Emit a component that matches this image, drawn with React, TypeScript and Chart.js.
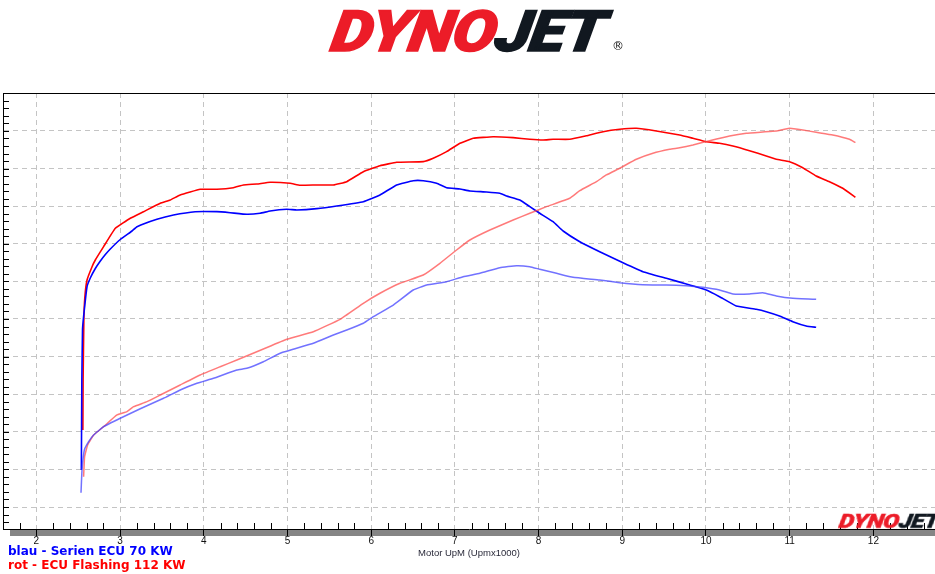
import React, { useEffect, useRef } from 'react';
import { Chart, registerables } from 'chart.js';

Chart.register(...registerables);

// ---- axis ticks ----
const xTickValues = [2, 3, 4, 5, 6, 7, 8, 9, 10, 11, 12];
const yGridValues = [0, 10, 20, 30, 40, 50, 60, 70, 80, 90, 100];

// ---- blau: Serien ECU (torque-like curve) ----
const blueTorqueRpm = [2.537, 2.543, 2.551, 2.564, 2.605, 2.644, 2.704, 2.764, 2.824, 2.883, 3.002, 3.142, 3.202, 3.44, 3.638, 3.897, 4.156, 4.315, 4.514, 4.673, 4.792, 4.992, 5.111, 5.35, 5.588, 5.906, 6.105, 6.304, 6.502, 6.622, 6.782, 6.901, 7.06, 7.179, 7.378, 7.537, 7.617, 7.776, 7.895, 8.014, 8.173, 8.293, 8.492, 8.73, 9.008, 9.247, 9.526, 9.765, 10.003, 10.162, 10.361, 10.6, 10.72, 10.878, 11.037, 11.197, 11.316];
const blueTorque = [9.84, 33.78, 47.07, 50.61, 58.59, 60.91, 63.43, 65.43, 67.15, 68.62, 71.14, 73.4, 74.55, 76.52, 77.66, 78.54, 78.54, 78.27, 77.85, 78.11, 78.72, 79.18, 78.99, 79.34, 80.05, 81.2, 82.98, 85.64, 86.78, 86.78, 86.09, 84.92, 84.57, 84.04, 83.78, 83.43, 82.71, 81.65, 79.87, 78.11, 75.88, 73.4, 70.56, 67.9, 64.97, 62.58, 60.82, 59.31, 57.71, 55.93, 53.46, 52.58, 51.94, 50.8, 49.28, 48.14, 47.79];

// ---- blau: Serien ECU (power-like curve) ----
const bluePowerRpm = [2.533, 2.545, 2.573, 2.624, 2.684, 2.803, 3.002, 3.241, 3.519, 3.718, 3.918, 4.116, 4.395, 4.514, 4.712, 4.912, 5.309, 5.548, 5.708, 5.906, 6.025, 6.264, 6.502, 6.662, 6.901, 7.099, 7.298, 7.537, 7.736, 7.895, 8.014, 8.214, 8.412, 8.73, 8.969, 9.247, 9.526, 9.765, 9.963, 10.162, 10.321, 10.52, 10.679, 10.839, 11.037, 11.316];
const bluePower = [3.8, 9.84, 15.16, 17.37, 19.15, 21.36, 23.59, 26.12, 28.91, 31.12, 32.9, 34.23, 36.44, 36.89, 38.64, 40.88, 43.54, 45.74, 47.07, 48.86, 50.61, 53.72, 57.71, 59.04, 59.92, 61.25, 62.15, 63.64, 64.18, 63.91, 63.22, 62.15, 61.09, 60.37, 59.65, 59.12, 59.04, 58.86, 58.43, 57.71, 56.65, 56.65, 56.99, 56.12, 55.51, 55.24];

// ---- rot: ECU Flashing (torque-like curve) ----
const redTorqueRpm = [2.555, 2.558, 2.567, 2.579, 2.605, 2.665, 2.704, 2.803, 2.943, 3.122, 3.28, 3.48, 3.599, 3.718, 3.957, 4.156, 4.354, 4.474, 4.634, 4.792, 5.031, 5.15, 5.35, 5.548, 5.708, 5.906, 6.105, 6.304, 6.622, 6.741, 6.901, 7.06, 7.219, 7.457, 7.696, 7.895, 8.054, 8.173, 8.372, 8.572, 8.77, 8.969, 9.168, 9.407, 9.685, 9.844, 10.003, 10.162, 10.321, 10.52, 10.72, 10.839, 10.998, 11.156, 11.316, 11.475, 11.634, 11.785];
const redTorque = [20.48, 33.78, 49.73, 55.85, 60.37, 63.91, 65.69, 69.23, 74.12, 76.78, 78.54, 80.77, 81.65, 82.98, 84.5, 84.5, 84.92, 85.64, 85.9, 86.36, 86.09, 85.56, 85.64, 85.64, 86.52, 89.18, 90.77, 91.68, 91.84, 92.74, 94.5, 96.73, 98.06, 98.48, 98.22, 97.79, 97.61, 97.79, 97.79, 98.75, 99.81, 100.45, 100.72, 100.0, 98.94, 98.06, 97.15, 96.73, 96.01, 94.76, 93.35, 92.47, 91.84, 90.24, 88.03, 86.52, 84.76, 82.37];

// ---- rot: ECU Flashing (power-like curve) ----
const redPowerRpm = [2.564, 2.576, 2.612, 2.684, 2.803, 2.963, 3.082, 3.161, 3.321, 3.48, 3.718, 3.957, 4.196, 4.395, 4.712, 4.992, 5.309, 5.628, 5.906, 6.105, 6.344, 6.622, 6.821, 7.02, 7.179, 7.418, 7.696, 7.895, 8.094, 8.372, 8.492, 8.691, 8.81, 8.969, 9.168, 9.366, 9.566, 9.685, 9.844, 10.043, 10.282, 10.481, 10.679, 10.839, 10.998, 11.156, 11.316, 11.514, 11.714, 11.785];
const redPower = [8.06, 13.38, 16.49, 19.15, 21.36, 24.47, 25.35, 26.68, 28.01, 29.79, 32.45, 35.11, 37.31, 39.1, 42.02, 44.6, 46.62, 49.92, 54.18, 56.84, 59.49, 61.7, 64.81, 68.35, 71.01, 73.67, 76.33, 78.11, 79.87, 82.1, 84.12, 86.52, 88.3, 90.08, 92.47, 94.07, 95.13, 95.53, 96.28, 97.42, 98.67, 99.39, 99.73, 100.0, 100.72, 100.27, 99.65, 98.94, 97.79, 96.89];

const legendLines = ['blau - Serien ECU 70 KW', 'rot - ECU Flashing 112 KW'];
const axisTitle = 'Motor UpM (Upmx1000)';

const toPoints = (xs: number[], ys: number[]) => xs.map((x, i) => ({ x, y: ys[i] }));

const decorPlugin = {
  id: 'dynoDecor',
  beforeDraw(chart: any) {
    const { ctx, chartArea } = chart;
    ctx.save();
    ctx.fillStyle = '#858585';
    ctx.fillRect(chartArea.left + 7, chartArea.bottom + 1, chartArea.right - chartArea.left - 7, 6);
    ctx.restore();
  },
  afterDraw(chart: any) {
    const { ctx, chartArea, scales } = chart;
    const xs = scales.x;
    const ys = scales.y;
    ctx.save();
    ctx.strokeStyle = '#000';
    ctx.lineWidth = 1;
    ctx.beginPath();
    // y minor ticks every 2 units
    for (let k = -2; k <= 55; k++) {
      const v = k * 2;
      if (v < ys.min || v > ys.max) continue;
      const py = Math.round(ys.getPixelForValue(v)) + 0.5;
      ctx.moveTo(chartArea.left, py);
      ctx.lineTo(chartArea.left + 6, py);
    }
    // x minor ticks every 0.2 units
    for (let k = 8; k <= 64; k++) {
      if (k % 5 === 0) continue;
      const v = k / 5;
      if (v < xs.min || v > xs.max) continue;
      const px = Math.round(xs.getPixelForValue(v)) + 0.5;
      ctx.moveTo(px, chartArea.bottom);
      ctx.lineTo(px, chartArea.bottom - 6);
    }
    // top frame line
    ctx.moveTo(chartArea.left, chartArea.top + 0.5);
    ctx.lineTo(chartArea.right, chartArea.top + 0.5);
    ctx.stroke();
    ctx.restore();
  },
};

function DynoChart() {
  const ref = useRef<HTMLCanvasElement | null>(null);
  useEffect(() => {
    if (!ref.current) return;
    const chart = new Chart(ref.current, {
      type: 'line',
      data: {
        datasets: [
          { label: 'blau Leistung', data: toPoints(bluePowerRpm, bluePower), borderColor: 'rgba(60,60,255,0.72)', borderWidth: 1.5 },
          { label: 'rot Leistung', data: toPoints(redPowerRpm, redPower), borderColor: 'rgba(255,70,70,0.72)', borderWidth: 1.5 },
          { label: 'blau Drehmoment', data: toPoints(blueTorqueRpm, blueTorque), borderColor: '#0000ff', borderWidth: 1.6 },
          { label: 'rot Drehmoment', data: toPoints(redTorqueRpm, redTorque), borderColor: '#ff0000', borderWidth: 1.6 },
        ],
      },
      options: {
        animation: false,
        responsive: false,
        events: [],
        layout: { padding: { left: 3, top: 93, right: 0, bottom: 0 } },
        elements: { point: { radius: 0 }, line: { tension: 0.1, fill: false } },
        plugins: { legend: { display: false }, tooltip: { enabled: false } },
        scales: {
          x: {
            type: 'linear',
            min: 1.601,
            max: 12.736,
            afterBuildTicks: (axis: any) => { axis.ticks = xTickValues.map((v) => ({ value: v })); },
            afterFit: (scale: any) => { scale.height = 45; },
            grid: { color: '#c4c4c4', lineWidth: 1, drawTicks: true, tickLength: 7, tickColor: '#000', tickBorderDash: [], tickWidth: 1 },
            border: { display: true, color: '#000', width: 1, dash: [5, 4] },
            ticks: { color: '#111', font: { family: 'Liberation Sans, Arial, sans-serif', size: 10 }, padding: -1, maxRotation: 0, autoSkip: false },
            title: { display: true, text: axisTitle, color: '#2a2a3a', font: { family: 'Liberation Sans, Arial, sans-serif', size: 9.5 }, padding: { top: 0, bottom: 15 } },
          },
          y: {
            type: 'linear',
            min: -5.85,
            max: 110.1,
            afterBuildTicks: (axis: any) => { axis.ticks = yGridValues.map((v) => ({ value: v })); },
            afterFit: (scale: any) => { scale.width = 0; },
            grid: { color: '#c4c4c4', lineWidth: 1, drawTicks: false },
            border: { display: true, color: '#000', width: 1, dash: [5, 4] },
            ticks: { display: false },
          },
        },
      },
      plugins: [decorPlugin],
    } as any);
    return () => chart.destroy();
  }, []);
  return <canvas ref={ref} width={935} height={574} style={{ position: 'absolute', left: 0, top: 0, width: 935, height: 574 }} />;
}

function Logo({ size, left, top, scaleX }: { size: number; left: number; top: number; scaleX: number }) {
  return (
    <div
      style={{
        position: 'absolute',
        left,
        top,
        fontFamily: 'Roboto, "DejaVu Sans", sans-serif',
        fontWeight: 900,
        fontStyle: 'italic',
        fontSize: size,
        lineHeight: `${size}px`,
        whiteSpace: 'nowrap',
        transform: `scaleX(${scaleX}) skewX(-8deg)`,
        transformOrigin: 'left top',
        letterSpacing: -size * 0.02,
        WebkitTextStroke: `${size * 0.025}px currentColor`,
      }}
    >
      <span style={{ color: '#ec1c28' }}>DYNO</span>
      <span style={{ color: '#111820' }}>JET</span>
    </div>
  );
}

export default function App() {
  return (
    <div style={{ position: 'absolute', left: 0, top: 0, width: 935, height: 574, background: '#fff', overflow: 'hidden' }}>
      <DynoChart />
      <Logo size={57} left={337} top={3} scaleX={1.155} />
      <div style={{ position: 'absolute', left: 612, top: 40, fontFamily: 'DejaVu Sans, sans-serif', fontSize: 12, color: '#111', lineHeight: '12px' }}>®</div>
      <Logo size={20} left={841} top={511} scaleX={1.2} />
      <div style={{ position: 'absolute', left: 8, top: 545, fontFamily: '"DejaVu Sans", sans-serif', fontWeight: 'bold', fontSize: 12, lineHeight: '12px', color: '#0000ff', whiteSpace: 'nowrap' }}>{legendLines[0]}</div>
      <div style={{ position: 'absolute', left: 8, top: 559, fontFamily: '"DejaVu Sans", sans-serif', fontWeight: 'bold', fontSize: 12, lineHeight: '12px', color: '#ff0000', whiteSpace: 'nowrap' }}>{legendLines[1]}</div>
    </div>
  );
}
